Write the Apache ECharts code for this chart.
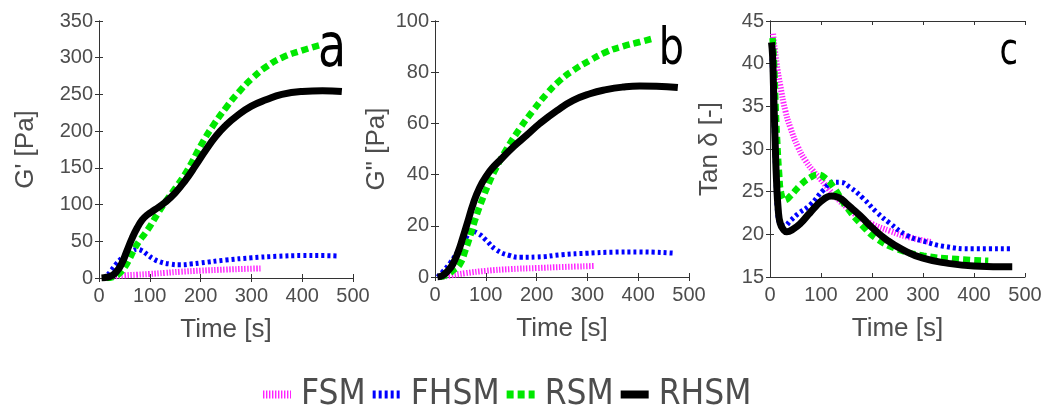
<!DOCTYPE html>
<html>
<head>
<meta charset="utf-8">
<script src="https://cdn.jsdelivr.net/npm/echarts@6/dist/echarts.min.js"></script>
<style>
  html, body { margin: 0; padding: 0; background: #fff; }
  #chart { width: 1051px; height: 414px; }
</style>
</head>
<body>
<div id="chart"></div>
<script>
// ---- data: [time (s), value] ----
// panel a : G' [Pa]
const gpFSM = [[15,0],[30,2],[50,3.5],[75,4.5],[100,5.5],[130,7],[160,8.5],[200,10],[250,11.5],[290,12.5],[318,13]];
const gpFHSM = [[8,0],[15,3],[25,11],[35,20],[45,27],[55,33],[65,37],[75,39],[85,37],[95,32],[105,27],[120,22],[140,19],[160,18],[180,19],[200,20.5],[250,24.5],[300,27.5],[350,29.5],[400,30.5],[440,30.5],[472,30]];
const gpRSM = [[15,0],[30,2],[40,6],[50,14],[60,26],[70,40],[80,51],[90,60],[100,70],[115,87],[130,103],[150,122],[175,148],[200,180],[225,208],[250,232],[275,253],[300,271],[330,288],[360,300],[400,310],[440,318]];
const gpRHSM = [[5,0],[15,1],[25,3],[35,9],[45,20],[55,37],[65,54],[75,68],[85,79],[95,86],[110,93],[130,103],[150,116],[170,133],[190,153],[210,174],[230,193],[250,208],[270,220],[300,234],[330,243],[360,250],[400,254],[440,255],[478,254]];

// panel b : G" [Pa]
const gppFSM = [[15,0],[30,0.6],[60,1.5],[100,2.4],[150,3.1],[200,3.5],[250,3.9],[315,4.3]];
const gppFHSM = [[5,0],[15,2],[30,5.5],[45,10],[60,15],[72,17.8],[85,17],[100,14.5],[120,10.7],[145,8.5],[170,7.7],[200,7.8],[250,8.7],[300,9.3],[350,9.7],[400,9.8],[470,9.3]];
const gppRSM = [[10,0],[25,1],[36,2.6],[49,5],[60,10.5],[70,16.5],[80,23],[95,31.2],[108,37.5],[120,42.5],[141,50],[167,58],[193,65],[220,71.6],[246,76.8],[272,80.7],[305,84.6],[337,87.9],[370,90.1],[403,91.8],[426,93]];
const gppRHSM = [[5,0],[15,0.6],[25,2.3],[35,5],[45,9.5],[55,15.5],[65,22],[75,28.5],[88,35],[102,39.7],[115,43],[130,46],[155,51],[180,55.3],[206,59.9],[240,65],[272,69],[305,71.6],[337,73.2],[370,74.2],[403,74.6],[436,74.5],[478,74]];

// panel c : Tan delta [-]
const tdFSM = [[6,43.5],[13,40],[20,37.5],[30,34.5],[40,32.5],[55,30.2],[70,28.6],[85,27.4],[100,26.4],[115,25.3],[130,24.3],[150,23.2],[175,22],[200,21.2],[235,20.4],[270,19.7],[315,19.1]];
const tdFHSM = [[3,42],[6,37],[9,31],[12,26],[15,22.5],[20,21.2],[28,21],[40,21.6],[55,22.4],[78,23.4],[105,25.2],[124,26.1],[137,26.1],[157,25.5],[183,24.2],[209,22.6],[235,21.3],[268,19.9],[301,19.2],[340,18.6],[400,18.3],[471,18.3]];
const tdRSM = [[5,43],[8,40],[11,35],[14,31],[18,27],[22,24.8],[29,24],[40,24.5],[60,25.8],[80,26.7],[94,27],[110,26.5],[125,25.5],[150,23.2],[183,20.9],[209,19.5],[248,18.3],[301,17.5],[366,17.1],[428,16.9]];
const tdRHSM = [[3,42.5],[5,41],[7,37],[10,31],[13,26],[16,23],[20,21.3],[27,20.5],[33,20.3],[45,20.6],[60,21.3],[75,22.3],[90,23.3],[105,24.1],[120,24.5],[135,24.3],[150,23.6],[165,22.8],[180,22],[200,20.8],[230,19.3],[260,18.2],[300,17.2],[350,16.6],[400,16.3],[475,16.2]];

const seriesNames = ["FSM", "FHSM", "RSM", "RHSM"];
const yNames = ["G' [Pa]", 'G" [Pa]', "Tan δ [-]"];
const panelLetters = ["a", "b", "c"];

// ---- styles ----
const lineStyles = {
  FSM:  { color: "#ff22ff", width: 6, type: [1.4, 1.6] },
  FHSM: { color: "#0000ff", width: 5, type: [3, 3] },
  RSM:  { color: "#00e800", width: 6.5, type: [7, 4] },
  RHSM: { color: "#000000", width: 7, type: "solid" },
};
const axisColor = "#333";
const labelColor = "#4d4d4d";
const font = "'Liberation Sans', Arial, sans-serif";
const narrowFont = "'Liberation Sans Narrow', 'Arial Narrow', 'DejaVu Sans Condensed', sans-serif";

const grids = [
  { left: 99, top: 21, width: 254, height: 257 },
  { left: 435, top: 21, width: 254, height: 256 },
  { left: 770, top: 21, width: 255, height: 256 },
];
const yRanges = [
  { min: 0, max: 350, interval: 50 },
  { min: 0, max: 100, interval: 20 },
  { min: 15, max: 45, interval: 5 },
];
const yNameGaps = [60, 45, 47];
const panelData = [
  [gpFSM, gpFHSM, gpRSM, gpRHSM],
  [gppFSM, gppFHSM, gppRSM, gppRHSM],
  [tdFSM, tdFHSM, tdRSM, tdRHSM],
];

const xAxes = [];
const yAxes = [];
const series = [];

grids.forEach((g, i) => {
  const tick = { show: true, inside: true, length: 4, lineStyle: { color: axisColor } };
  const line = { show: true, lineStyle: { color: axisColor, width: 1 } };
  xAxes.push({
    type: "value", gridIndex: i, min: 0, max: 500, interval: 100,
    position: "bottom",
    name: "Time [s]", nameLocation: "middle", nameGap: 39,
    nameTextStyle: { fontSize: 26, color: labelColor, fontFamily: font },
    axisLine: line, axisTick: tick, splitLine: { show: false },
    axisLabel: { fontSize: 20, color: labelColor, fontFamily: font, margin: 8 },
  });
  xAxes.push({
    type: "value", gridIndex: i, min: 0, max: 500, interval: 100,
    position: "top", axisLine: line, axisTick: tick,
    axisLabel: { show: false }, splitLine: { show: false },
  });
  yAxes.push({
    type: "value", gridIndex: i, ...yRanges[i],
    position: "left",
    name: yNames[i], nameLocation: "middle", nameGap: yNameGaps[i],
    nameTextStyle: { fontSize: 26, color: labelColor, fontFamily: font },
    axisLine: line, axisTick: tick, splitLine: { show: false },
    axisLabel: { fontSize: 20, color: labelColor, fontFamily: font, margin: 6 },
  });
  yAxes.push({
    type: "value", gridIndex: i, ...yRanges[i],
    position: "right", axisLine: line, axisTick: tick,
    axisLabel: { show: false }, splitLine: { show: false },
  });

  seriesNames.forEach((name, k) => {
    series.push({
      name,
      type: "line",
      xAxisIndex: i * 2,
      yAxisIndex: i * 2,
      data: panelData[i][k],
      showSymbol: false,
      symbol: "none",
      smooth: 0.5,
      lineStyle: lineStyles[name],
      itemStyle: { color: lineStyles[name].color },
      z: 2 + k,
      silent: true,
    });
  });
});

const letterPos = [
  { x: 346, y: 50, size: 60 },
  { x: 684, y: 50, size: 52 },
  { x: 1018, y: 53, size: 44 },
];

const chart = echarts.init(document.getElementById("chart"), null, { renderer: "canvas" });
chart.setOption({
  animation: false,
  backgroundColor: "#fff",
  grid: grids,
  xAxis: xAxes,
  yAxis: yAxes,
  series,
  legend: {
    left: 254,
    top: 372,
    itemWidth: 28,
    itemHeight: 8,
    itemGap: 3,
    data: seriesNames.map((n) => ({
      name: n,
      itemStyle: { color: "rgba(0,0,0,0)", borderWidth: 0 },
      lineStyle: { width: 8, type: lineStyles[n].type, color: lineStyles[n].color },
    })),
    textStyle: { fontSize: 35, color: labelColor, fontFamily: narrowFont, padding: [0, 0, 0, 5] },
  },
  graphic: panelLetters.map((t, i) => ({
    type: "text",
    z: 100,
    scaleX: 0.85,
    x: letterPos[i].x,
    y: letterPos[i].y,
    style: {
      text: t,
      x: 0,
      y: 0,
      textAlign: "right",
      textVerticalAlign: "middle",
      fill: "#000",
      font: letterPos[i].size + "px " + narrowFont,
    },
  })),
});
</script>
</body>
</html>
